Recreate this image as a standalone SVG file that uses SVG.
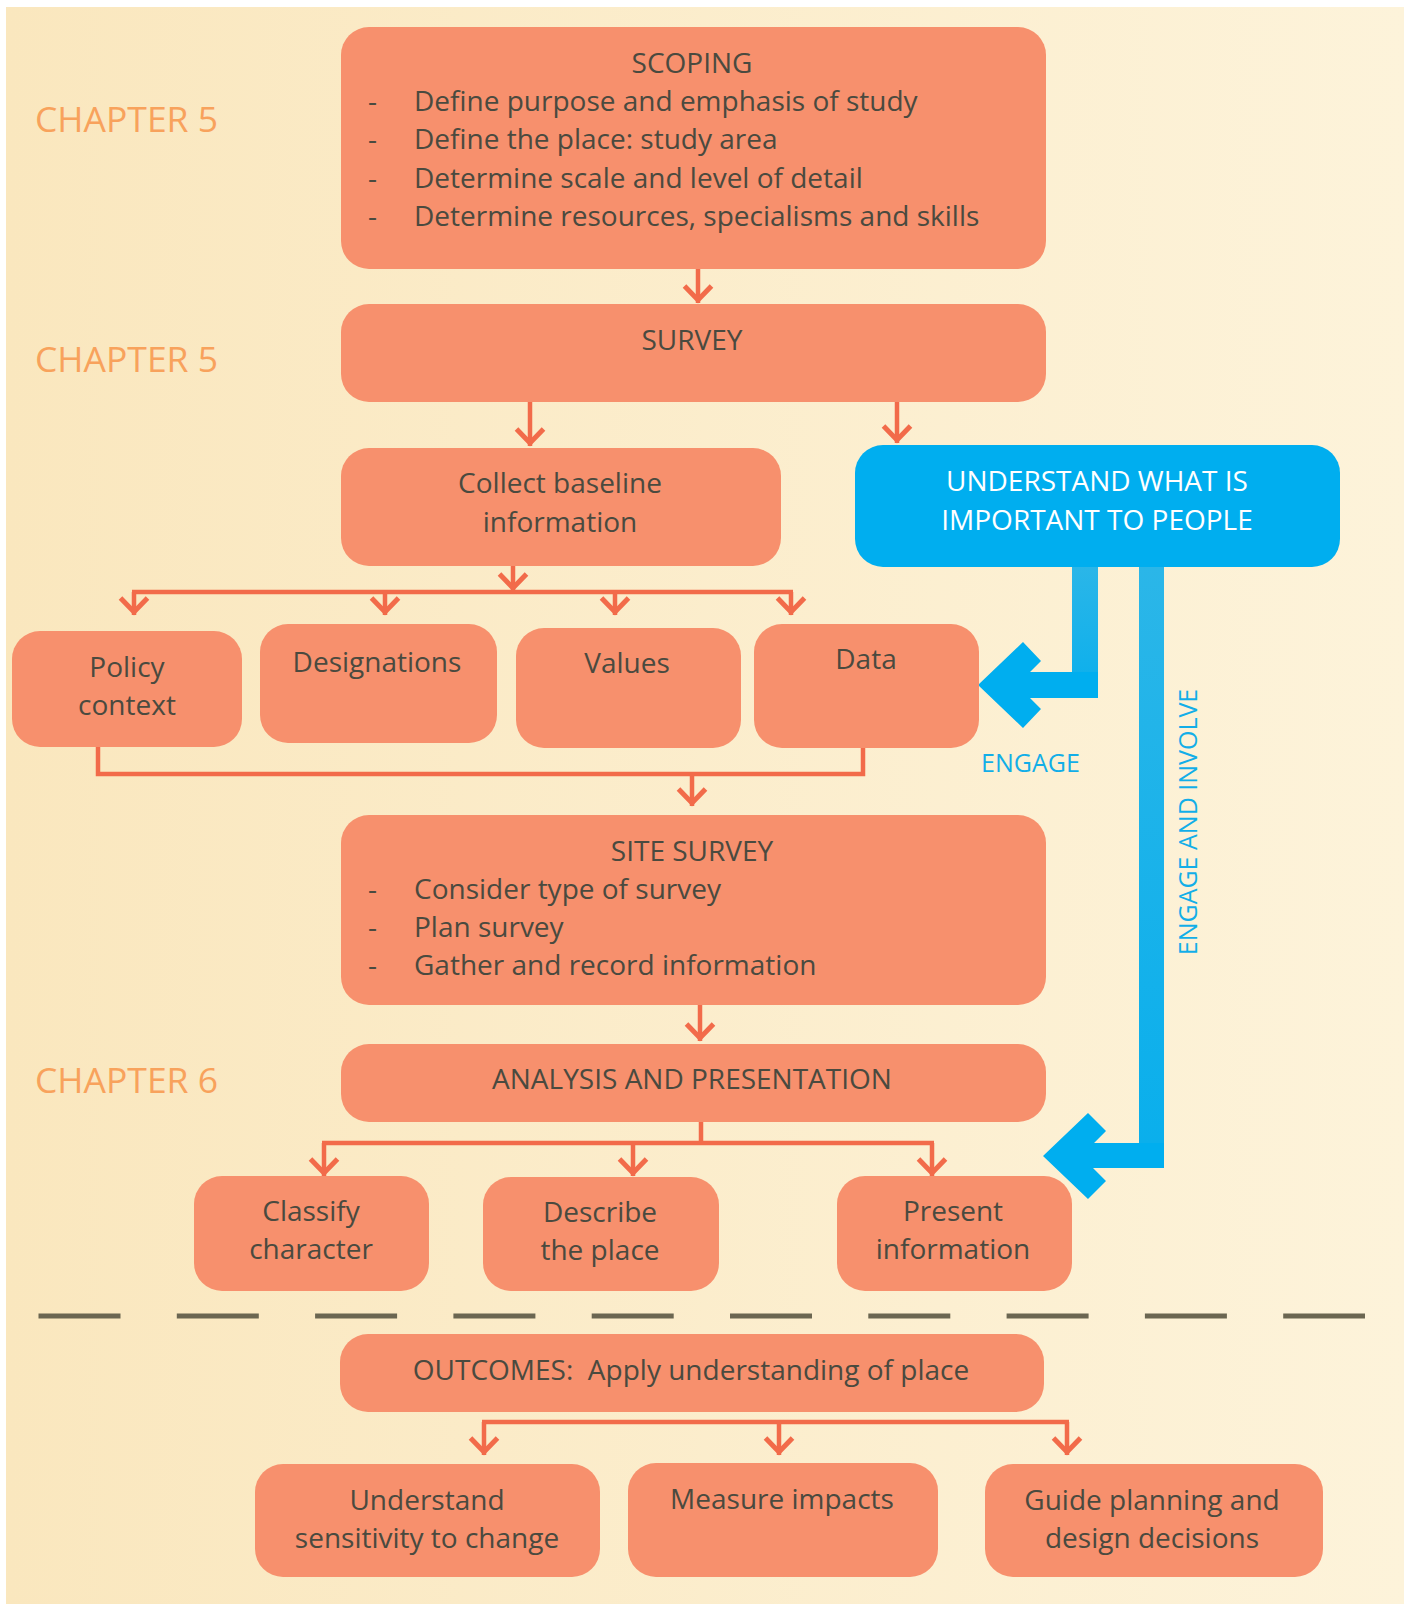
<svg xmlns="http://www.w3.org/2000/svg" width="1404" height="1604" viewBox="0 0 1404 1604">
  <defs>
    <linearGradient id="bg" x1="0" y1="0" x2="1" y2="0">
      <stop offset="0" stop-color="#FAE7BE"/>
      <stop offset="1" stop-color="#FDF3DA"/>
    </linearGradient>
    <linearGradient id="blueBar" x1="0" y1="0" x2="0" y2="1">
      <stop offset="0" stop-color="#2BB6E8"/>
      <stop offset="1" stop-color="#0AAFEC"/>
    </linearGradient>
    <marker id="ah" markerUnits="userSpaceOnUse" markerWidth="40" markerHeight="40" viewBox="-20 -20 40 40" refX="0" refY="0" orient="auto" overflow="visible">
      <path d="M-17,-13.5 L-3,0 L-17,13.5" fill="none" stroke="#F26B4A" stroke-width="5"/>
    </marker>
    <style>
      .box { fill: #F7906D; }
      .t { font-family: "Open Sans", "Liberation Sans", sans-serif; font-size: 28px; fill: #4A4A3F; }
      .c { text-anchor: middle; }
      .w { fill: #FFFFFF; }
      .ch { font-family: "Open Sans", "Liberation Sans", sans-serif; font-size: 35.5px; fill: #F8A25C; }
      .bl { font-family: "Open Sans", "Liberation Sans", sans-serif; font-size: 25px; fill: #12AEE8; }
      .ln { fill: none; stroke: #F26B4A; stroke-width: 4.5; }
      .ar { fill: none; stroke: #F26B4A; stroke-width: 4.5; marker-end: url(#ah); }
    </style>
  </defs>

  <!-- page background -->
  <rect x="0" y="0" width="1404" height="1604" fill="#FFFFFF"/>
  <rect x="6" y="7" width="1398" height="1597" fill="url(#bg)"/>

  <!-- chapter labels -->
  <g id="chapter-labels">
    <text class="ch" x="35" y="132">CHAPTER 5</text>
    <text class="ch" x="35" y="372">CHAPTER 5</text>
    <text class="ch" x="35" y="1093">CHAPTER 6</text>
  </g>

  <!-- connectors -->
  <g id="connectors">
    <line class="ar" x1="698" y1="269" x2="698" y2="303"/>
    <line class="ar" x1="530" y1="402" x2="530" y2="446"/>
    <line class="ar" x1="897" y1="402" x2="897" y2="443"/>

    <line class="ar" x1="513" y1="566" x2="513" y2="591"/>
    <line class="ln" x1="132" y1="592" x2="793" y2="592"/>
    <line class="ar" x1="134" y1="592" x2="134" y2="615"/>
    <line class="ar" x1="385" y1="592" x2="385" y2="615"/>
    <line class="ar" x1="615" y1="592" x2="615" y2="615"/>
    <line class="ar" x1="791" y1="592" x2="791" y2="615"/>

    <path class="ln" d="M98,747 V774 H863 V748"/>
    <line class="ar" x1="692" y1="774" x2="692" y2="806"/>

    <line class="ar" x1="700" y1="1005" x2="700" y2="1041"/>

    <line class="ln" x1="701" y1="1122" x2="701" y2="1143"/>
    <line class="ln" x1="322" y1="1143" x2="934" y2="1143"/>
    <line class="ar" x1="324" y1="1143" x2="324" y2="1176"/>
    <line class="ar" x1="633" y1="1143" x2="633" y2="1176"/>
    <line class="ar" x1="932" y1="1143" x2="932" y2="1176"/>

    <line class="ln" x1="482" y1="1422" x2="1069" y2="1422"/>
    <line class="ar" x1="484" y1="1422" x2="484" y2="1455"/>
    <line class="ar" x1="779" y1="1422" x2="779" y2="1455"/>
    <line class="ar" x1="1067" y1="1422" x2="1067" y2="1455"/>

    <!-- engagement arrows -->
    <rect x="1072" y="566" width="26" height="130" fill="url(#blueBar)"/>
    <path d="M978,685 L1023,642 L1041,661 L1030,672 H1098 V698 H1030 L1041,709 L1023,728 Z" fill="#00AEEF"/>
    <rect x="1139" y="567" width="25" height="576" fill="url(#blueBar)"/>
    <path d="M1043,1156 L1088,1113 L1106,1131 L1094,1143 H1164 V1168 H1093 L1106,1181 L1088,1199 Z" fill="#00AEEF"/>
    <text class="bl" x="981" y="772">ENGAGE</text>
    <text class="bl" transform="translate(1197,822) rotate(-90)" text-anchor="middle" x="0" y="0">ENGAGE AND INVOLVE</text>
  </g>

  <!-- dashed divider -->
  <line x1="38.5" y1="1316" x2="1365" y2="1316" stroke="#6B6651" stroke-width="5" stroke-dasharray="82 56.3"/>

  <g id="scoping">
    <rect class="box" x="341" y="27" width="705" height="242" rx="28"/>
    <text class="t c" x="692" y="73">SCOPING</text>
    <text class="t" x="368" y="111">-</text>
    <text class="t" x="414" y="111">Define purpose and emphasis of study</text>
    <text class="t" x="368" y="149">-</text>
    <text class="t" x="414" y="149">Define the place: study area</text>
    <text class="t" x="368" y="188">-</text>
    <text class="t" x="414" y="188">Determine scale and level of detail</text>
    <text class="t" x="368" y="226">-</text>
    <text class="t" x="414" y="226">Determine resources, specialisms and skills</text>
  </g>

  <g id="survey">
    <rect class="box" x="341" y="304" width="705" height="98" rx="28"/>
    <text class="t c" x="692" y="350">SURVEY</text>
  </g>

  <g id="collect-baseline">
    <rect class="box" x="341" y="448" width="440" height="118" rx="28"/>
    <text class="t c" x="560" y="493">Collect baseline</text>
    <text class="t c" x="560" y="532">information</text>
  </g>

  <g id="understand-people">
    <rect x="855" y="445" width="485" height="122" rx="28" fill="#00AEEF"/>
    <text class="t c w" x="1097" y="491">UNDERSTAND WHAT IS</text>
    <text class="t c w" x="1097" y="530">IMPORTANT TO PEOPLE</text>
  </g>

  <g id="policy-context">
    <rect class="box" x="12" y="631" width="230" height="116" rx="28"/>
    <text class="t c" x="127" y="677">Policy</text>
    <text class="t c" x="127" y="715">context</text>
  </g>

  <g id="designations">
    <rect class="box" x="260" y="624" width="237" height="119" rx="28"/>
    <text class="t c" x="377" y="672">Designations</text>
  </g>

  <g id="values">
    <rect class="box" x="516" y="628" width="225" height="120" rx="28"/>
    <text class="t c" x="627" y="673">Values</text>
  </g>

  <g id="data">
    <rect class="box" x="754" y="624" width="225" height="124" rx="28"/>
    <text class="t c" x="866" y="669">Data</text>
  </g>

  <g id="site-survey">
    <rect class="box" x="341" y="815" width="705" height="190" rx="28"/>
    <text class="t c" x="692" y="861">SITE SURVEY</text>
    <text class="t" x="368" y="899">-</text>
    <text class="t" x="414" y="899">Consider type of survey</text>
    <text class="t" x="368" y="937">-</text>
    <text class="t" x="414" y="937">Plan survey</text>
    <text class="t" x="368" y="975">-</text>
    <text class="t" x="414" y="975">Gather and record information</text>
  </g>

  <g id="analysis">
    <rect class="box" x="341" y="1044" width="705" height="78" rx="28"/>
    <text class="t c" x="692" y="1089">ANALYSIS AND PRESENTATION</text>
  </g>

  <g id="classify">
    <rect class="box" x="194" y="1176" width="235" height="115" rx="28"/>
    <text class="t c" x="311" y="1221">Classify</text>
    <text class="t c" x="311" y="1259">character</text>
  </g>

  <g id="describe">
    <rect class="box" x="483" y="1177" width="236" height="114" rx="28"/>
    <text class="t c" x="600" y="1222">Describe</text>
    <text class="t c" x="600" y="1260">the place</text>
  </g>

  <g id="present">
    <rect class="box" x="837" y="1176" width="235" height="115" rx="28"/>
    <text class="t c" x="953" y="1221">Present</text>
    <text class="t c" x="953" y="1259">information</text>
  </g>

  <g id="outcomes">
    <rect class="box" x="340" y="1334" width="704" height="78" rx="28"/>
    <text class="t c" x="691" y="1380" xml:space="preserve">OUTCOMES:  Apply understanding of place</text>
  </g>

  <g id="sensitivity">
    <rect class="box" x="255" y="1464" width="345" height="113" rx="28"/>
    <text class="t c" x="427" y="1510">Understand</text>
    <text class="t c" x="427" y="1548">sensitivity to change</text>
  </g>

  <g id="measure">
    <rect class="box" x="628" y="1463" width="310" height="114" rx="28"/>
    <text class="t c" x="782" y="1509">Measure impacts</text>
  </g>

  <g id="guide">
    <rect class="box" x="985" y="1464" width="338" height="113" rx="28"/>
    <text class="t c" x="1152" y="1510">Guide planning and</text>
    <text class="t c" x="1152" y="1548">design decisions</text>
  </g>
</svg>
